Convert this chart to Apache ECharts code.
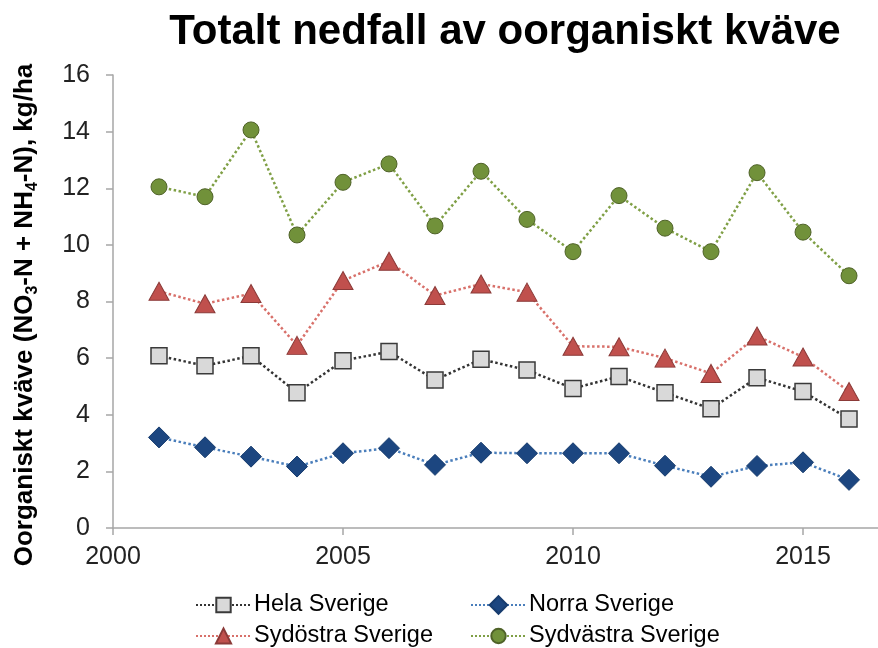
<!DOCTYPE html>
<html>
<head>
<meta charset="utf-8">
<script src="https://cdn.jsdelivr.net/npm/echarts@6/dist/echarts.min.js"></script>
<style>html,body{margin:0;padding:0;background:#fff}#c{width:878px;height:648px}</style>
</head>
<body>
<div id="c"></div>
<script>
const years = [2001,2002,2003,2004,2005,2006,2007,2008,2009,2010,2011,2012,2013,2014,2015,2016];
const hela = [6.08,5.73,6.08,4.78,5.91,6.23,5.23,5.96,5.58,4.93,5.35,4.78,4.21,5.31,4.82,3.85];
const norra = [3.20,2.85,2.52,2.17,2.64,2.82,2.23,2.66,2.64,2.64,2.64,2.20,1.81,2.19,2.32,1.70];
const sydostra = [8.36,7.92,8.28,6.45,8.74,9.42,8.21,8.62,8.33,6.42,6.40,6.00,5.46,6.78,6.04,4.82];
const sydvastra = [12.05,11.70,14.06,10.35,12.21,12.86,10.67,12.60,10.90,9.76,11.74,10.59,9.76,12.55,10.45,8.91];
const xTicks = [2000,2005,2010,2015];
const seriesNames = ['Hela Sverige','Norra Sverige','Sydöstra Sverige','Sydvästra Sverige'];

const FONT = '"Liberation Sans", Arial, sans-serif';
const pairs = arr => years.map((y,i)=>[y, arr[i]]);

function leg(name, left, top, h){
  return {data:[name], orient:'horizontal', left:left, top:top, padding:0,
    itemWidth:55, itemHeight:h, itemGap:0,
    textStyle:{fontFamily:FONT, fontSize:23.5, color:'#000', padding:[0,0,0,-2]}};
}

const chart = echarts.init(document.getElementById('c'), null, {renderer:'canvas'});
chart.setOption({
  animation:false,
  backgroundColor:'#fff',
  title:{
    text:'Totalt nedfall av oorganiskt kväve',
    left:500, textAlign:'center', top:6,
    textStyle:{fontFamily:FONT, fontSize:42, fontWeight:'bold', color:'#000'}
  },
  legend:[
    leg(seriesNames[0],195,593,18),
    leg(seriesNames[1],470,593,22),
    leg(seriesNames[2],195,624,19),
    leg(seriesNames[3],470,624,18)
  ],
  grid:{left:113, right:0, top:75, bottom:120, containLabel:false},
  xAxis:{
    type:'value', min:2000, max:2016.63, interval:5,
    splitLine:{show:false},
    axisLine:{lineStyle:{color:'#a6a6a6', width:1.5}},
    axisTick:{show:true, length:7, lineStyle:{color:'#a6a6a6', width:1.5}, customValues:xTicks},
    axisLabel:{fontFamily:FONT, fontSize:25, color:'#222', margin:17, customValues:xTicks,
      formatter: v => String(v)}
  },
  yAxis:{
    type:'value', min:0, max:16, interval:2,
    splitLine:{show:false},
    axisLine:{show:true, lineStyle:{color:'#a6a6a6', width:1.5}},
    axisTick:{show:true, length:7, lineStyle:{color:'#a6a6a6', width:1.5}},
    axisLabel:{fontFamily:FONT, fontSize:25, color:'#222', margin:23}
  },
  graphic:[{
    type:'text', x:25, y:315, rotation:Math.PI/2,
    style:{
      text:'{a|Oorganiskt kväve (NO}{s|3}{a|-N + NH}{s|4}{a|-N), kg/ha}',
      align:'center', verticalAlign:'middle',
      rich:{
        a:{fontFamily:FONT, fontSize:26, fontWeight:'bold', fill:'#000', color:'#000'},
        s:{fontFamily:FONT, fontSize:16, fontWeight:'bold', fill:'#000', color:'#000', verticalAlign:'bottom', lineHeight:32}
      }
    }
  }],
  series:[
    {name:seriesNames[0], type:'line', data:pairs(hela), symbol:'rect', symbolSize:16,
     lineStyle:{type:'dotted', width:2.5, color:'#333'},
     itemStyle:{color:'#d9d9d9', borderColor:'#3a3a3a', borderWidth:1.5}, z:3},
    {name:seriesNames[1], type:'line', data:pairs(norra), symbol:'diamond', symbolSize:[21,21],
     lineStyle:{type:'dotted', width:2.5, color:'#4a7ebb'},
     itemStyle:{color:'#1c4680', borderColor:'#173c6e', borderWidth:1}, z:3},
    {name:seriesNames[2], type:'line', data:pairs(sydostra), symbol:'triangle', symbolSize:[20,18],
     lineStyle:{type:'dotted', width:2.5, color:'#d8706a'},
     itemStyle:{color:'#c0504d', borderColor:'#8b3a38', borderWidth:1}, z:3},
    {name:seriesNames[3], type:'line', data:pairs(sydvastra), symbol:'circle', symbolSize:16,
     lineStyle:{type:'dotted', width:2.5, color:'#7f9f45'},
     itemStyle:{color:'#71913a', borderColor:'#4f6228', borderWidth:1}, z:3}
  ]
});
</script>
</body>
</html>
